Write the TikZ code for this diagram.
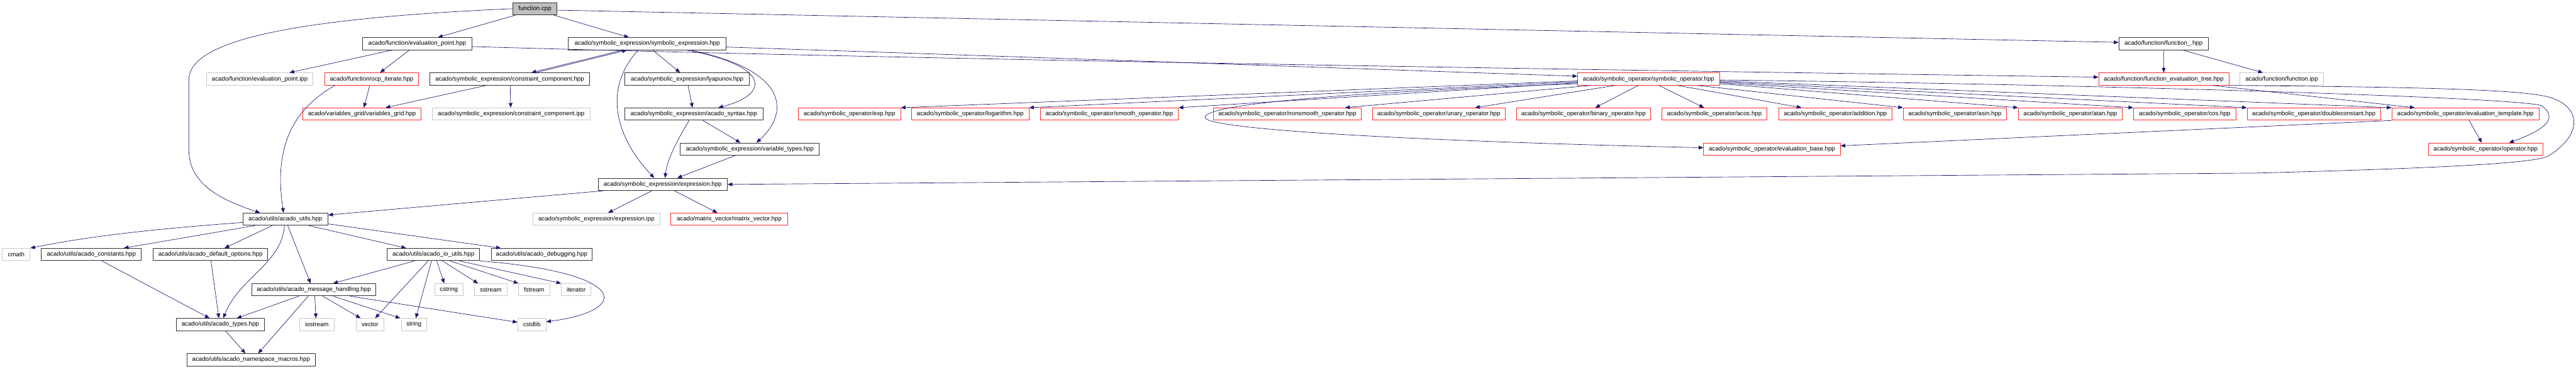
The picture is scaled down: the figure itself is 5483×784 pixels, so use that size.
\documentclass[tikz,border=0pt]{standalone}
\usepackage{fontspec}
\setmainfont{Liberation Sans}
\usetikzlibrary{arrows.meta}
\definecolor{edgeblue}{HTML}{191970}
\definecolor{boxred}{HTML}{FF2A2A}
\definecolor{boxgray}{HTML}{C8C8C8}
\definecolor{rootgray}{HTML}{BFBFBF}
\tikzset{
  incfile/.style={rectangle,draw=black!80,line width=1.2pt,minimum height=26pt,inner sep=0pt},
  redfile/.style={incfile,draw=boxred},
  sysfile/.style={incfile,draw=boxgray},
  rootfile/.style={incfile,fill=rootgray},
  line/.style={-{Triangle[length=10pt,width=8pt]},draw=edgeblue,line width=0.9pt}
}

\begin{document}
\begin{tikzpicture}[x=1pt,y=-1pt,font=\fontsize{13}{15}\selectfont]
\useasboundingbox (0,0) rectangle (5483,784);
% row 0 and 1
\node[rootfile, minimum width=93pt] (root) at (1138.5,18.5) {function.cpp};
\node[incfile, minimum width=232pt] (evpt) at (888,93) {acado/function/evaluation\_point.hpp};
\node[incfile, minimum width=335pt] (symexpr) at (1377.5,93) {acado/symbolic\_expression/symbolic\_expression.hpp};
\node[incfile, minimum width=190pt] (func) at (4605,93) {acado/function/function\_.hpp};
% row 2
\node[sysfile, minimum width=226pt] (evptipp) at (553,168) {acado/function/evaluation\_point.ipp};
\node[redfile, minimum width=200pt] (ocp) at (791,168) {acado/function/ocp\_iterate.hpp};
\node[incfile, minimum width=340pt] (ccomp) at (1085,168) {acado/symbolic\_expression/constraint\_component.hpp};
\node[incfile, minimum width=265pt] (lyap) at (1462.5,168) {acado/symbolic\_expression/lyapunov.hpp};
\node[redfile, minimum width=302pt] (symop) at (3509,168) {acado/symbolic\_operator/symbolic\_operator.hpp};
\node[redfile, minimum width=277pt] (fevtree) at (4605.5,168) {acado/function/function\_evaluation\_tree.hpp};
\node[sysfile, minimum width=179pt] (funcipp) at (4856.5,168) {acado/function/function.ipp};
% row 3
\node[redfile, minimum width=251pt] (vgrid) at (770.5,242.5) {acado/variables\_grid/variables\_grid.hpp};
\node[sysfile, minimum width=336pt] (ccompipp) at (1088,242.5) {acado/symbolic\_expression/constraint\_component.ipp};
\node[incfile, minimum width=294pt] (syntax) at (1477,242.5) {acado/symbolic\_expression/acado\_syntax.hpp};
\node[redfile, minimum width=218pt] (exp) at (1808,242.5) {acado/symbolic\_operator/exp.hpp};
\node[redfile, minimum width=250pt] (log) at (2065,242.5) {acado/symbolic\_operator/logarithm.hpp};
\node[redfile, minimum width=294pt] (smooth) at (2361,242.5) {acado/symbolic\_operator/smooth\_operator.hpp};
\node[redfile, minimum width=314pt] (nonsmooth) at (2740,242.5) {acado/symbolic\_operator/nonsmooth\_operator.hpp};
\node[redfile, minimum width=283pt] (unary) at (3062.5,242.5) {acado/symbolic\_operator/unary\_operator.hpp};
\node[redfile, minimum width=285pt] (binary) at (3370.5,242.5) {acado/symbolic\_operator/binary\_operator.hpp};
\node[redfile, minimum width=224pt] (acos) at (3649,242.5) {acado/symbolic\_operator/acos.hpp};
\node[redfile, minimum width=241pt] (addition) at (3906.5,242.5) {acado/symbolic\_operator/addition.hpp};
\node[redfile, minimum width=220pt] (asin) at (4161,242.5) {acado/symbolic\_operator/asin.hpp};
\node[redfile, minimum width=221pt] (atan) at (4406.5,242.5) {acado/symbolic\_operator/atan.hpp};
\node[redfile, minimum width=218pt] (cos) at (4650,242.5) {acado/symbolic\_operator/cos.hpp};
\node[redfile, minimum width=284pt] (dconst) at (4925,242.5) {acado/symbolic\_operator/doubleconstant.hpp};
\node[redfile, minimum width=313pt] (evtempl) at (5247.5,242.5) {acado/symbolic\_operator/evaluation\_template.hpp};
% row 4 and 5
\node[incfile, minimum width=296pt] (vartypes) at (1596,317) {acado/symbolic\_expression/variable\_types.hpp};
\node[redfile, minimum width=291pt] (evbase) at (3771.5,317) {acado/symbolic\_operator/evaluation\_base.hpp};
\node[redfile, minimum width=243pt] (operator) at (5290.5,317) {acado/symbolic\_operator/operator.hpp};
\node[incfile, minimum width=275pt] (expr) at (1410.5,392) {acado/symbolic\_expression/expression.hpp};
% row 6 and 7
\node[incfile, minimum width=181pt] (utils) at (607.5,466) {acado/utils/acado\_utils.hpp};
\node[sysfile, minimum width=271pt] (expripp) at (1269.5,466) {acado/symbolic\_expression/expression.ipp};
\node[redfile, minimum width=248pt] (matvec) at (1552,466) {acado/matrix\_vector/matrix\_vector.hpp};
\node[sysfile, minimum width=59pt] (cmath) at (34.5,541) {cmath};
\node[incfile, minimum width=213pt] (consts) at (194.5,541) {acado/utils/acado\_constants.hpp};
\node[incfile, minimum width=244pt] (defopt) at (448,541) {acado/utils/acado\_default\_options.hpp};
\node[incfile, minimum width=197pt] (ioutils) at (922.5,541) {acado/utils/acado\_io\_utils.hpp};
\node[incfile, minimum width=214pt] (debug) at (1153,541) {acado/utils/acado\_debugging.hpp};
% rows 8 to 10
\node[incfile, minimum width=264pt] (msg) at (668,616) {acado/utils/acado\_message\_handling.hpp};
\node[sysfile, minimum width=61pt] (cstring) at (955.5,616) {cstring};
\node[sysfile, minimum width=69pt] (sstream) at (1044.5,616) {sstream};
\node[sysfile, minimum width=66pt] (fstream) at (1137,616) {fstream};
\node[sysfile, minimum width=63pt] (iterator) at (1226.5,616) {iterator};
\node[incfile, minimum width=188pt] (types) at (469,690) {acado/utils/acado\_types.hpp};
\node[sysfile, minimum width=73pt] (iostream) at (674.5,690) {iostream};
\node[sysfile, minimum width=59pt] (vector) at (787.5,690) {vector};
\node[sysfile, minimum width=54pt] (string) at (881,690) {string};
\node[sysfile, minimum width=60pt] (cstdlib) at (1132,690) {cstdlib};
\node[incfile, minimum width=273pt] (nsmacros) at (534.5,765) {acado/utils/acado\_namespace\_macros.hpp};

% function.cpp
\draw[line] ([xshift=-41pt]root.south) -- ([xshift=44pt]evpt.north);
\draw[line] ([xshift=40pt]root.south) -- ([xshift=-39pt]symexpr.north);
\draw[line] ([yshift=-3pt]root.east) -- ([yshift=3pt]func.west);
\draw[line] (root.west) .. controls (600,40) and (402,90) .. (402,170) -- (402,320) .. controls (402,395) and (480,428) .. ([xshift=-54pt]utils.north);
% evaluation_point.hpp
\draw[line] ([xshift=-54pt]evpt.south) -- ([xshift=63pt]evptipp.north);
\draw[line] ([xshift=-17pt]evpt.south) -- ([xshift=18pt]ocp.north);
\draw[line] ([yshift=-6pt]evpt.east) .. controls (2000,128) and (3500,150) .. ([yshift=4pt]fevtree.west);
% symbolic_expression.hpp
\draw[line] ([yshift=-7pt]symexpr.east) .. controls (2300,125) and (3000,150) .. ([yshift=6pt]symop.west);
\draw[line] ([xshift=-52pt]symexpr.south) -- ([xshift=46pt]ccomp.north);
\draw[line] ([xshift=55pt]ccomp.north) -- ([xshift=-43pt]symexpr.south);
\draw[line] ([xshift=12pt]symexpr.south) -- ([xshift=-15pt]lyap.north);
\draw[line] ([xshift=84pt]symexpr.south) .. controls (1640,140) and (1640,200) .. ([xshift=52pt]syntax.north);
\draw[line] ([xshift=93pt]symexpr.south) .. controls (1680,150) and (1680,240) .. ([xshift=14pt]vartypes.north);
\draw[line] ([xshift=-19pt]symexpr.south) .. controls (1290,180) and (1300,280) .. ([xshift=-18pt]expr.north);
% function_.hpp
\draw[line] (func.south) -- (fevtree.north);
\draw[line] ([xshift=41pt]func.south) -- ([xshift=-40pt]funcipp.north);
% row 2 sources
\draw[line] ([xshift=-50pt]ccomp.south) -- ([xshift=50pt]vgrid.north);
\draw[line] ([xshift=1pt]ccomp.south) -- ([xshift=-1pt]ccompipp.north);
\draw[line] ([xshift=-4pt]ocp.south) -- ([xshift=4pt]vgrid.north);
\draw[line] ([xshift=-78pt]ocp.south) .. controls (610,240) and (585,330) .. ([xshift=-4pt]utils.north);
\draw[line] ([xshift=2pt]lyap.south) -- ([xshift=-3pt]syntax.north);
\draw[line] ([xshift=19pt]syntax.south) -- ([xshift=-20pt]vartypes.north);
\draw[line] ([xshift=-10pt]syntax.south) .. controls (1440,300) and (1420,340) .. ([xshift=5pt]expr.north);
\draw[line] ([xshift=-31pt]vartypes.south) -- ([xshift=31pt]expr.north);
% expression.hpp
\draw[line] ([xshift=-126pt]expr.south) -- ([yshift=9pt]utils.east);
\draw[line] ([xshift=-23pt]expr.south) -- ([xshift=25pt]expripp.north);
\draw[line] ([xshift=25pt]expr.south) -- ([xshift=-25pt]matvec.north);
% symbolic_operator.hpp
\draw[line] ([yshift=-4pt]symop.west) -- (exp.north east);
\draw[line] ([yshift=-6pt]symop.west) -- (log.north east);
\draw[line] ([yshift=-8pt]symop.west) -- (smooth.north east);
\draw[line] ([xshift=-122pt]symop.south) -- ([xshift=123pt]nonsmooth.north);
\draw[line] ([xshift=-71pt]symop.south) -- ([xshift=77pt]unary.north);
\draw[line] ([xshift=-22pt]symop.south) -- ([xshift=25pt]binary.north);
\draw[line] ([xshift=22pt]symop.south) -- ([xshift=-22pt]acos.north);
\draw[line] ([xshift=62pt]symop.south) -- ([xshift=-72pt]addition.north);
\draw[line] ([xshift=103pt]symop.south) -- (asin.north west);
\draw[line] ([yshift=-10pt]symop.east) -- (atan.north west);
\draw[line] ([yshift=-8pt]symop.east) -- (cos.north west);
\draw[line] ([yshift=-6pt]symop.east) -- (dconst.north west);
\draw[line] ([yshift=-4pt]symop.east) -- (evtempl.north west);
\draw[line] ([yshift=-2pt]symop.east) .. controls (4500,180) and (5380,208) .. (5410,225) .. controls (5445,250) and (5420,275) .. ([xshift=50pt]operator.north);
\draw[line] ([yshift=-10pt]symop.west) .. controls (2900,195) and (2560,220) .. (2565,250) .. controls (2570,275) and (3000,300) .. ([yshift=3pt]evbase.west);
% function_evaluation_tree.hpp
\draw[line] ([xshift=104pt]fevtree.south) -- ([xshift=-108pt]evtempl.north);
\draw[line] (fevtree.south east) .. controls (5150,185) and (5350,190) .. (5420,205) .. controls (5500,225) and (5495,290) .. (5423,332) .. controls (5390,350) and (5100,360) .. (4800,368) -- (expr.east);
\draw[line] (evtempl.south west) -- ([yshift=7pt]evbase.east);
\draw[line] ([xshift=8pt]evtempl.south) -- ([xshift=-8pt]operator.north);
% acado_utils.hpp
\draw[line] ([yshift=-7pt]utils.west) .. controls (350,485) and (200,500) .. (cmath.north east);
\draw[line] ([xshift=-65pt]utils.south) -- ([xshift=69pt]consts.north);
\draw[line] ([xshift=-28pt]utils.south) -- ([xshift=30pt]defopt.north);
\draw[line] ([xshift=-2pt]utils.south) .. controls (600,560) and (510,590) .. ([xshift=6pt]types.north);
\draw[line] ([xshift=5pt]utils.south) -- ([xshift=-7pt]msg.north);
\draw[line] ([xshift=50pt]utils.south) -- ([xshift=-58pt]ioutils.north);
\draw[line] ([yshift=-10pt]utils.east) -- ([xshift=-87pt]debug.north);
\draw[line] ([xshift=22pt]consts.south) -- ([xshift=-23pt]types.north);
\draw[line] ([xshift=1pt]defopt.south) -- ([xshift=-3pt]types.north);
% acado_message_handling.hpp
\draw[line] ([xshift=-32pt]msg.south) -- ([xshift=35pt]types.north);
\draw[line] ([xshift=-12pt]msg.south) -- ([xshift=15pt]nsmacros.north);
\draw[line] ([xshift=2pt]msg.south) -- ([xshift=-2pt]iostream.north);
\draw[line] ([xshift=19pt]msg.south) -- ([xshift=-20pt]vector.north);
\draw[line] ([xshift=41pt]msg.south) -- ([xshift=-29pt]string.north);
\draw[line] ([xshift=77pt]msg.south) -- ([yshift=5pt]cstdlib.west);
\draw[line] ([xshift=11pt]types.south) -- ([xshift=-12pt]nsmacros.north);
% acado_io_utils.hpp
\draw[line] ([xshift=-40pt]ioutils.south) -- ([xshift=41pt]msg.north);
\draw[line] ([xshift=-11pt]ioutils.south) -- ([xshift=11pt]vector.north);
\draw[line] ([xshift=-4pt]ioutils.south) -- ([xshift=4pt]string.north);
\draw[line] ([xshift=7pt]ioutils.south) -- ([xshift=-10pt]cstring.north);
\draw[line] ([xshift=19pt]ioutils.south) -- ([xshift=-27pt]sstream.north);
\draw[line] ([xshift=35pt]ioutils.south) -- (fstream.north west);
\draw[line] ([xshift=55pt]ioutils.south) -- (iterator.north west);
\draw[line] (ioutils.south east) .. controls (1340,580) and (1345,660) .. ([yshift=6pt]cstdlib.east);
\end{tikzpicture}
\end{document}
